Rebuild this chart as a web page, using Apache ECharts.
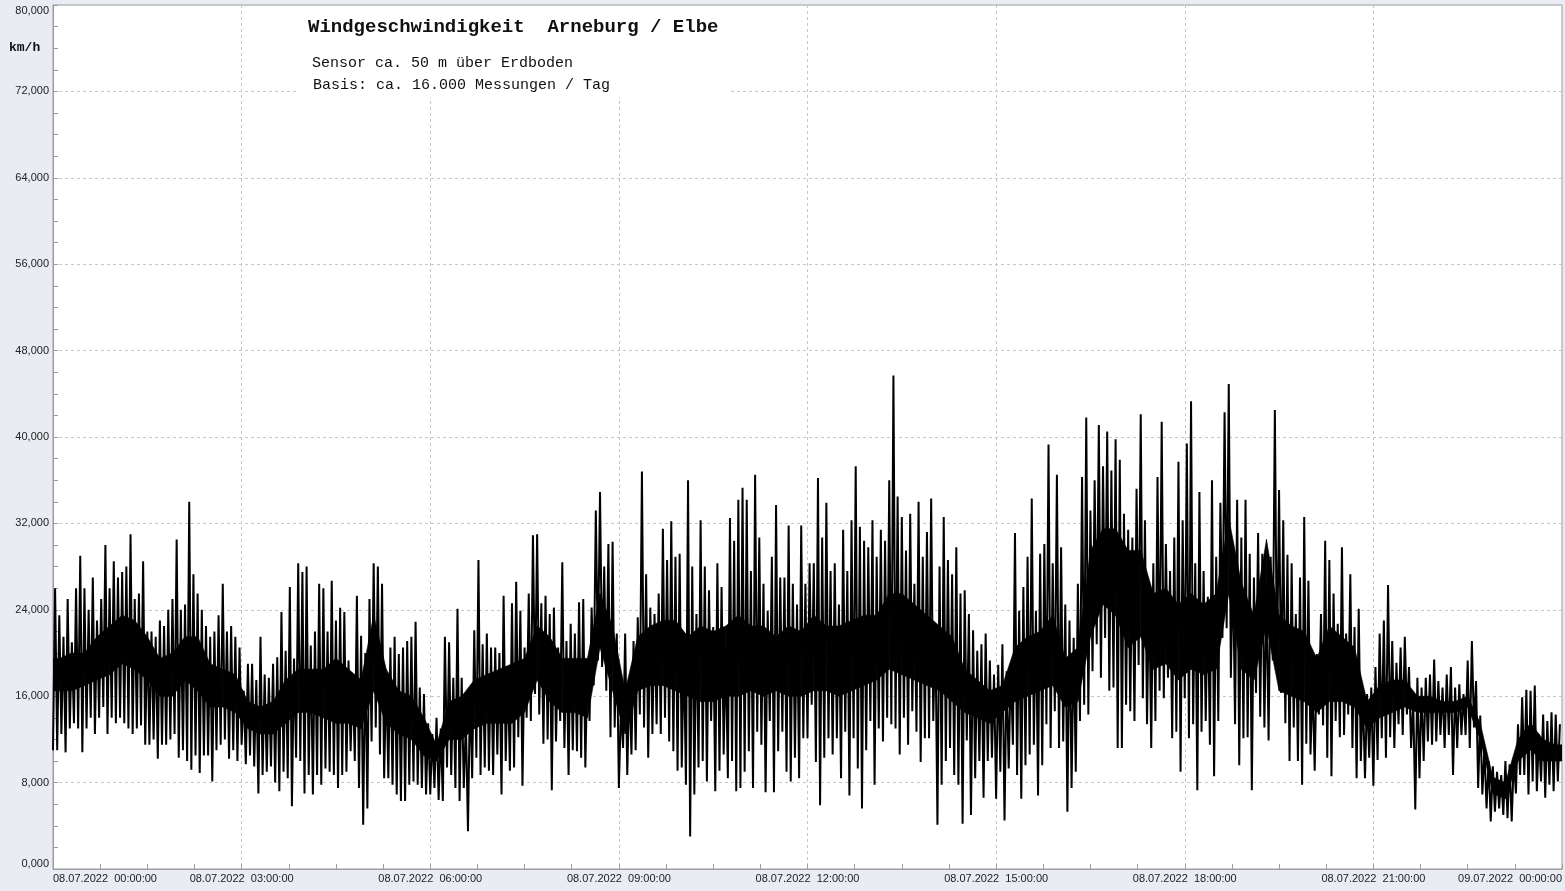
<!DOCTYPE html>
<html>
<head>
<meta charset="utf-8">
<script src="https://cdn.jsdelivr.net/npm/echarts@6/dist/echarts.min.js"></script>
<style>
html,body{margin:0;padding:0;background:#e9ecf2;}
#c{width:1565px;height:891px;}
</style>
</head>
<body>
<div id="c"></div>
<script>
// Tick labels
const xTickLabels = ['08.07.2022  00:00:00','08.07.2022  03:00:00','08.07.2022  06:00:00','08.07.2022  09:00:00','08.07.2022  12:00:00','08.07.2022  15:00:00','08.07.2022  18:00:00','08.07.2022  21:00:00','09.07.2022  00:00:00'];
const yTickLabels = ['0,000','8,000','16,000','24,000','32,000','40,000','48,000','56,000','64,000','72,000','80,000'];

// Texts
const titleText = 'Windgeschwindigkeit  Arneburg / Elbe';
const subtitle1 = 'Sensor ca. 50 m über Erdboden';
const subtitle2 = 'Basis: ca. 16.000 Messungen / Tag';
const unitLabel = 'km/h';

// Bucket lengths in minutes
const bucketMinutes = 4;
const coreMinutes = 12;

// Highest speed per 4-minute bucket (15 per hour), km/h
const windHigh = [
  26, 23.5, 21.5, 25, 21, 26, 29, 26, 24, 27, 23, 25, 30, 26, 28.5,
  27, 27.5, 28, 31, 25, 25.5, 28.5, 22, 22, 21.5, 23, 22.5, 24, 25, 30.5,
  24, 24.5, 34, 27.3, 25.5, 24, 22.5, 21.5, 22, 23.5, 26.4, 22, 22.5, 21.5, 20.5,
  16.5, 19, 19, 17.5, 21.5, 18, 17.7, 19, 19.6, 23.8, 20.2, 26.1, 19.5, 28.3, 27.5,
  28, 20.7, 22, 26.4, 26, 22, 26.7, 23, 24.2, 23.8, 19.3, 17.8, 25.3, 21.6, 20,
  25, 28.3, 28, 26.4, 18, 20.5, 21.5, 19.9, 20.5, 21.1, 21.5, 22.9, 16.8, 16.2, 13.5,
  12.5, 14, 13, 21.5, 21, 17.7, 24.1, 17.7, 13.7, 16.8, 22.1, 28.6, 20.8, 21.8, 20.5,
  20.5, 20, 25.3, 18.4, 24.6, 26.6, 23.9, 20.5, 25.5, 30.9, 31, 24.6, 25.3, 23.6, 24.2,
  20.5, 28.4, 21.1, 22.7, 21.8, 24.7, 25, 19.3, 24.2, 33.2, 34.9, 28, 30.1, 30.3, 21.8,
  15, 21.8, 17.4, 21.1, 23.3, 36.8, 27.3, 24.2, 23.6, 25.5, 31.5, 28.6, 32.2, 28.9, 29.2,
  20.5, 36, 28, 23.6, 32.3, 28, 25.8, 22.4, 28.3, 26.1, 20.5, 32.5, 30.4, 34.2, 35.3,
  34.2, 27.6, 36.5, 30.7, 26.4, 23.9, 28.9, 33.7, 27, 27, 31.8, 26.4, 24.5, 31.8, 26.4,
  28.3, 28.3, 36.2, 30.7, 33.9, 27.6, 28.3, 24.5, 31.4, 27.6, 32.3, 37.3, 31.7, 30.4, 29.8,
  32.3, 28.9, 31.4, 30.4, 36, 45.7, 34.5, 32.6, 29.5, 32.9, 26.4, 34, 28.9, 31.2, 34.3,
  22.4, 28, 32.6, 28.6, 27.3, 29.8, 25.5, 25.8, 23.6, 22.1, 20.2, 20.8, 21.8, 19.3, 18,
  18.9, 20.8, 18.3, 18.9, 31.1, 23.9, 26.1, 28.9, 34.3, 23.9, 29.2, 30.1, 39.3, 28.3, 36.5,
  29.8, 24.5, 23, 21.4, 26.4, 36.3, 41.8, 33.2, 36, 41.1, 37.3, 40.5, 36.9, 39.8, 37.9,
  32.9, 31.4, 30.7, 35.2, 42.1, 32.3, 26.4, 28.3, 36.3, 41.4, 30.1, 27.6, 30.7, 37.7, 32.3,
  39.4, 43.3, 28.3, 34.9, 27.6, 25.2, 36, 28.9, 33.9, 42.3, 44.9, 28.3, 34.2, 30.7, 34.2,
  29.2, 27, 31.1, 29.2, 26.1, 28.9, 42.5, 35.1, 32.3, 29.1, 28.3, 23.6, 27, 32.6, 26.7,
  17.4, 19.9, 23.6, 30.4, 28.6, 25.5, 22.7, 29.8, 21.8, 27.3, 22.4, 24.1, 16.2, 16.2, 16.8,
  18.7, 21.8, 23, 26.3, 21.1, 19.1, 20.5, 21.5, 18.7, 15.6, 17.7, 16.8, 17.7, 18, 19.4,
  17.4, 16.8, 18, 18.7, 16.8, 17.1, 16.2, 19.3, 21.1, 17.4, 14.2, 11.2, 10, 9.5, 9,
  8.7, 10, 9.7, 10.3, 13.4, 15.9, 16.6, 16.5, 17, 12.5, 14.3, 13.7, 14.5, 14.3, 13.4
];

// Lowest speed per 4-minute bucket (15 per hour), km/h
const windLow = [
  11, 11, 12.5, 10.8, 13, 13.5, 13, 10.8, 13, 14, 12.5, 14, 15, 12.5, 14,
  13.5, 14, 13.5, 13, 12.5, 13, 13.3, 11.5, 11.5, 12, 10.2, 11.5, 11.5, 12, 12.5,
  10.3, 11, 10, 9.2, 10.5, 8.9, 10.5, 10.5, 8.1, 11, 11.5, 12, 10.2, 11, 10,
  11.5, 9.7, 10.5, 9.5, 7, 8.7, 9, 9.5, 8, 7.2, 9, 8.4, 5.8, 10.3, 10,
  7, 8.7, 6.9, 8.7, 7.8, 9.3, 9, 8.7, 7.5, 8.7, 9, 10.9, 10, 7.5, 4.1,
  5.6, 11.8, 13.1, 10.6, 8.4, 8.4, 7.8, 6.9, 6.3, 6.3, 7.8, 8.1, 7.8, 7.5, 6.9,
  6.9, 7.5, 6.4, 6.3, 9.4, 8.7, 7.5, 6.3, 7.5, 3.5, 8.4, 10.3, 8.7, 9.4, 9.1,
  8.7, 10.6, 6.9, 10, 9.1, 9.4, 12.2, 7.7, 14, 13.7, 16.2, 14.3, 11.6, 12, 7.3,
  11.8, 13.7, 11.2, 8.7, 11, 10.9, 10.3, 9.4, 13.7, 17, 19.3, 18.7, 16.5, 12.2, 13.1,
  7.5, 11.2, 8.7, 10.6, 11, 14.3, 13.1, 10.3, 12.5, 13.4, 12.5, 14, 11.8, 10.9, 9.1,
  9.4, 7.8, 3, 6.9, 9.4, 10, 8.1, 13.7, 7.2, 9.1, 10.6, 8.4, 10, 7.2, 7.5,
  9, 10.9, 7.5, 12.7, 11.5, 7.1, 13.7, 7.1, 10.9, 12.7, 9, 8.1, 10.3, 8.4, 12.1,
  12.1, 15.2, 9.9, 5.9, 10.3, 12.1, 10.6, 12.1, 8.4, 12.7, 6.8, 12.1, 9.3, 5.6, 11,
  13.7, 7.8, 13, 11.8, 14, 13.4, 13, 10.6, 14, 11.5, 14.6, 12.7, 9.9, 12.1, 12.1,
  13.7, 4.1, 7.8, 10, 11.2, 8.7, 7.8, 4.2, 11.9, 5, 8.4, 10, 6.6, 10, 10.3,
  6.5, 9, 4.5, 9.3, 11.5, 8.7, 6.5, 9.6, 10.6, 11.5, 6.8, 9.6, 13.4, 11.2, 14.6,
  11.2, 11.8, 5.3, 7.5, 9, 13.7, 15.2, 14.3, 18.3, 20.8, 17.7, 21.4, 16.5, 16.8, 11.2,
  11.2, 15.2, 14.6, 13.7, 18.9, 15.8, 13.4, 11.2, 13.7, 16.5, 15.8, 17.7, 12.1, 12.7, 9,
  15.8, 12.1, 13.4, 7.3, 12.7, 13.7, 11.5, 8.6, 13.7, 21.4, 22.3, 17.7, 13.4, 9.6, 12.1,
  12.2, 7.3, 16.3, 14.1, 13.1, 11.9, 19.3, 18, 16.3, 13.5, 10, 13.1, 10, 7.8, 11.6,
  10.6, 9.1, 14.3, 13.3, 10.3, 8.6, 13.7, 12.2, 12.4, 14.3, 11.2, 8.4, 10, 8.4, 10.3,
  7.7, 10.1, 12.1, 10.3, 12.2, 11.2, 13.4, 12.4, 14.3, 11.2, 5.5, 8.4, 10, 11.8, 11.5,
  11.8, 12.4, 11.2, 12.4, 8.7, 11.2, 12.4, 12.4, 11.2, 13.1, 7.5, 6.9, 5.6, 4.4, 5.3,
  5.6, 5, 4.7, 4.4, 7, 8.7, 8.7, 6.9, 8.1, 7.2, 8.1, 6.6, 7.8, 7.2, 8.1
];

// Upper edge of the fully solid band per 12-minute bucket (5 per hour), km/h
const coreHigh = [
  19.5, 20, 20, 21.5, 22.5,
  23.5, 23, 21.5, 19.5, 20,
  21.5, 21.5, 19, 18.5, 18,
  15.5, 15, 15.5, 17.5, 18.5,
  18.5, 18.5, 19.5, 18.5, 17.5,
  23.5, 18.5, 16.5, 16, 14,
  11.5, 15.5, 16, 17.5, 18,
  18.5, 19, 19.5, 22.5, 21.5,
  19.5, 19.5, 19.5, 25.5, 22.5,
  16.5, 21.5, 22.5, 23, 23,
  21.5, 22.5, 22, 22.5, 23.5,
  22.5, 22.5, 21.5, 22.5, 22,
  23.5, 22.5, 22.5, 23, 23.5,
  23.5, 25.5, 25.5, 24.5, 23.5,
  22.5, 21.5, 18.5, 17.5, 16.5,
  17, 20.5, 21.5, 22, 23.5,
  19.5, 20.5, 29.5, 31.5, 31.5,
  29.5, 29.5, 25.5, 26, 24.5,
  25.5, 24.5, 25.5, 32.5, 26.5,
  23.5, 30.5, 23.5, 22.5, 22,
  19.5, 22.5, 21.5, 20.5, 15.5,
  17, 17.5, 17.5, 16, 16,
  15.5, 15.5, 16, 13.5, 8.5,
  8, 12, 13.5, 12, 11.5
];

// Lower edge of the fully solid band per 12-minute bucket (5 per hour), km/h
const coreLow = [
  16.5, 16.5, 17, 17.5, 18,
  19, 18.5, 17.5, 16, 16,
  17.5, 16.5, 15, 15, 14.5,
  13, 12.5, 12.5, 13.5, 14.5,
  14.5, 14, 13.5, 13.5, 13,
  16.5, 13.5, 12.5, 12, 10.5,
  10, 12, 12, 13, 13.5,
  13.5, 13.5, 14.5, 17.5, 15.5,
  14.5, 14.5, 14, 20.5, 16.5,
  12.5, 16.5, 17, 17, 16.5,
  16, 15.5, 15.5, 16, 16,
  16.5, 16, 16.5, 16, 16,
  16.5, 16.5, 16, 16.5, 17,
  17.5, 18.5, 18, 17.5, 17,
  16.5, 15.5, 14.5, 14, 13.5,
  14.5, 15.5, 16, 16.5, 17,
  15, 15.5, 21.5, 24.5, 23.5,
  20.5, 21.5, 18.5, 19, 17.5,
  18.5, 18, 18.5, 25.5, 18.5,
  17.5, 22.5, 16.5, 16, 15.5,
  14.5, 15.5, 15.5, 15, 13,
  14, 14.5, 15, 14.5, 14.5,
  14.5, 14.5, 15, 12, 7,
  6.5, 10, 11, 10, 10
];

// Zig-zag trace: low at bucket start, high at bucket middle (x in hours)
const traceData = [];
for (let i = 0; i < windHigh.length; i++) {
  traceData.push([i * bucketMinutes / 60, windLow[i]]);
  traceData.push([(i * bucketMinutes + bucketMinutes / 2) / 60, windHigh[i]]);
}
// Solid band items: [time (h), lower edge, upper edge]
const coreData = [];
for (let i = 0; i < coreHigh.length; i++) {
  coreData.push([(i * coreMinutes + coreMinutes / 2) / 60, coreLow[i], coreHigh[i]]);
}

function renderCore(params, api) {
  const i = params.dataIndex;
  const cur = coreData[i];
  const nxt = i + 1 < coreData.length ? coreData[i + 1] : [24, cur[1], cur[2]];
  const children = [];
  const poly = (a, b) => ({
    type: 'polygon',
    shape: {points: [api.coord([a[0], a[2]]), api.coord([b[0], b[2]]), api.coord([b[0], b[1]]), api.coord([a[0], a[1]])]},
    style: {fill: '#000', stroke: '#000', lineWidth: 0.6}
  });
  children.push(poly(cur, nxt));
  if (i === 0) children.push(poly([0, cur[1], cur[2]], cur));
  return {type: 'group', children: children};
}

const chart = echarts.init(document.getElementById('c'), null, {renderer: 'canvas'});
const gridColor = '#c6c6c6';
const axisColor = '#9c9c9c';
chart.setOption({
  animation: false,
  backgroundColor: '#e9ecf2',
  grid: {
    left: 53, right: 3, top: 5, bottom: 22,
    show: true, backgroundColor: '#ffffff', borderColor: axisColor, borderWidth: 1,
    outerBoundsMode: 'none', containLabel: false
  },
  xAxis: {
    type: 'value', min: 0, max: 24, interval: 3,
    axisLine: {show: true, lineStyle: {color: axisColor}},
    axisTick: {show: true, inside: true, length: 5, lineStyle: {color: axisColor}},
    minorTick: {show: true, splitNumber: 4, length: 5, lineStyle: {color: axisColor}},
    splitLine: {show: true, lineStyle: {color: gridColor, type: [3, 3], width: 1}},
    axisLabel: {
      color: '#222', fontSize: 11, fontFamily: '"Liberation Sans", Arial, sans-serif', margin: 4,
      showMinLabel: true, showMaxLabel: true, alignMinLabel: 'left', alignMaxLabel: 'right',
      hideOverlap: false,
      formatter: function (v) { return xTickLabels[Math.round(v / 3)]; }
    }
  },
  yAxis: {
    type: 'value', min: 0, max: 80, interval: 8,
    axisLine: {show: true, lineStyle: {color: axisColor}},
    axisTick: {show: true, inside: true, length: 5, lineStyle: {color: axisColor}},
    minorTick: {show: true, splitNumber: 4, length: 5, lineStyle: {color: axisColor}},
    splitLine: {show: true, lineStyle: {color: gridColor, type: [3, 3], width: 1}},
    axisLabel: {
      color: '#222', fontSize: 11, fontFamily: '"Liberation Sans", Arial, sans-serif', margin: 4,
      showMinLabel: true, showMaxLabel: true,
      verticalAlignMinLabel: 'bottom', verticalAlignMaxLabel: 'top',
      formatter: function (v) { return yTickLabels[Math.round(v / 8)]; }
    }
  },
  series: [
    {
      name: 'core', type: 'custom', data: coreData,
      encode: {x: 0, y: [1, 2]},
      renderItem: renderCore, clip: true, silent: true, z: 1
    },
    {
      name: 'wind', type: 'line', data: traceData,
      showSymbol: false, symbol: 'none',
      lineStyle: {color: '#000', width: 2},
      itemStyle: {color: '#000'}, clip: true, z: 2
    }
  ],
  graphic: [
    {type: 'rect', left: 297, top: 6, z: 10, silent: true,
     shape: {width: 433, height: 91}, style: {fill: '#ffffff'}},
    {type: 'text', left: 308, top: 18, z: 11, silent: true,
     style: {text: titleText, font: 'bold 19px "Liberation Mono", "DejaVu Sans Mono", monospace', fill: '#111'}},
    {type: 'text', left: 312, top: 56, z: 11, silent: true,
     style: {text: subtitle1, font: '15px "Liberation Mono", "DejaVu Sans Mono", monospace', fill: '#111'}},
    {type: 'text', left: 313, top: 78, z: 11, silent: true,
     style: {text: subtitle2, font: '15px "Liberation Mono", "DejaVu Sans Mono", monospace', fill: '#111'}},
    {type: 'text', left: 9, top: 41, z: 11, silent: true,
     style: {text: unitLabel, font: 'bold 13px "Liberation Mono", "DejaVu Sans Mono", monospace', fill: '#111'}}
  ]
});
</script>
</body>
</html>
